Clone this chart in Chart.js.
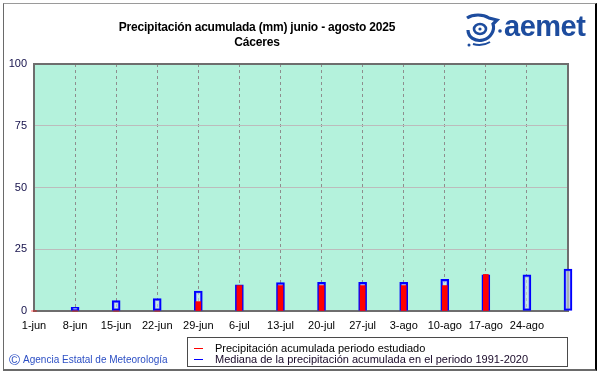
<!DOCTYPE html>
<html><head><meta charset="utf-8">
<script src="https://cdn.jsdelivr.net/npm/chart.js@4.4.1/dist/chart.umd.min.js"></script>
<style>
html,body{margin:0;padding:0;background:#fff;}
#wrap{position:relative;width:601px;height:374px;overflow:hidden;font-family:'Liberation Sans',Arial,sans-serif;background:#fff;}
#frame{position:absolute;left:3px;top:3px;width:591px;height:365px;border-top:1px solid #9a9a9a;border-left:1px solid #6a6a6a;border-right:2px solid #000;border-bottom:2px solid #6a6a6a;}
canvas{position:absolute;left:0;top:0;}
#title{position:absolute;left:107px;width:300px;top:20px;text-align:center;font-weight:bold;font-size:12px;line-height:15px;color:#000;letter-spacing:-0.2px;}
#logo{position:absolute;left:463px;top:12px;}
#logotext{position:absolute;left:504px;top:8px;font-weight:bold;font-size:29px;line-height:36px;color:#1d4c9e;letter-spacing:-0.5px;}
#legend{position:absolute;left:187px;top:337px;width:379px;height:28px;border:1px solid #4a4a4a;background:#fff;}
.lrow{position:absolute;left:0;height:11px;font-size:11px;line-height:11px;color:#000;white-space:nowrap;}
.lline{position:absolute;left:6px;width:9px;height:1px;}
.ltext{position:absolute;left:27px;top:0;}
#footer{position:absolute;left:9px;top:352px;font-size:10px;line-height:16px;color:#2c4fc4;white-space:nowrap;}
#footer .c{font-size:15px;vertical-align:-2px;margin-right:3px;}
</style></head>
<body>
<div id="wrap">
  <div id="frame"></div>
  <canvas id="c" width="601" height="374"></canvas>
  <div id="title">Precipitación acumulada (mm) junio - agosto 2025<br>Cáceres</div>
  <svg id="logo" viewBox="0 0 40 38" width="40" height="38">
    <path d="M4 6 C10 2 20 2 26 6 L34 8 L30 12 C32 18 28 26 20 28 C12 30 5 25 5 18" fill="none" stroke="#1d4c9e" stroke-width="3.2"/>
    <ellipse cx="17" cy="17" rx="6" ry="5" fill="none" stroke="#1d4c9e" stroke-width="2.6"/>
    <circle cx="17" cy="17" r="1.6" fill="#1d4c9e"/>
    <circle cx="37" cy="19" r="1.8" fill="#1d4c9e"/>
    <circle cx="6" cy="33" r="1.5" fill="#1d4c9e"/>
    <path d="M10 32 C16 34 22 33 27 30" fill="none" stroke="#1d4c9e" stroke-width="2"/>
  </svg>
  <div id="logotext">aemet</div>
  <div id="legend">
    <div class="lrow" style="top:5px;"><div class="lline" style="top:5px;background:#ff0000;"></div><span class="ltext">Precipitación acumulada periodo estudiado</span></div>
    <div class="lrow" style="top:16px;"><div class="lline" style="top:5px;background:#0000ff;"></div><span class="ltext" style="color:#180828;">Mediana de la precipitación acumulada en el periodo 1991-2020</span></div>
  </div>
  <div id="footer"><span class="c">©</span>Agencia Estatal de Meteorología</div>
</div>
<script>
// ---- data ----
const categories = ['1-jun','8-jun','15-jun','22-jun','29-jun','6-jul','13-jul','20-jul','27-jul','3-ago','10-ago','17-ago','24-ago','31-ago'];
const tickLabels = ['1-jun','8-jun','15-jun','22-jun','29-jun','6-jul','13-jul','20-jul','27-jul','3-ago','10-ago','17-ago','24-ago',''];
const precipEstudiado = [0, 0, 0, 0, 3.8, 10.3, 10.3, 10.3, 10.3, 10.3, 10.3, 14.8, null, null];
const medianaNormal   = [0, 1.5, 4.2, 5.0, 8.1, 10.6, 11.5, 11.6, 11.6, 11.6, 12.8, 14.6, 14.6, 17.0];
const yTicks = [0, 25, 50, 75, 100];

const plotBg = {
  id: 'plotBg',
  beforeDraw(chart) {
    const {ctx, chartArea: a} = chart;
    ctx.save();
    ctx.fillStyle = '#b4f2dc';
    ctx.fillRect(a.left, a.top, a.right - a.left, a.bottom - a.top);
    ctx.restore();
  },
  beforeDatasetsDraw(chart) {
    const {ctx, chartArea: a} = chart;
    ctx.save();
    ctx.strokeStyle = '#6e6e6e';
    ctx.lineWidth = 2;
    ctx.strokeRect(a.left, a.top, a.right - a.left, a.bottom - a.top);
    ctx.restore();
  }
};

new Chart(document.getElementById('c'), {
  type: 'bar',
  data: {
    labels: categories,
    datasets: [
      {
        label: 'Precipitación acumulada periodo estudiado',
        data: precipEstudiado,
        backgroundColor: '#ff0000',
        borderWidth: 0,
        barThickness: 5,
        grouped: false,
        order: 1,
        clip: false
      },
      {
        label: 'Mediana de la precipitación acumulada en el periodo 1991-2020',
        data: medianaNormal,
        backgroundColor: 'rgba(214,228,232,0.55)',
        borderColor: '#0000ff',
        borderWidth: 2,
        borderSkipped: false,
        barThickness: 8,
        grouped: false,
        order: 2,
        clip: false
      }
    ]
  },
  options: {
    responsive: false,
    animation: false,
    devicePixelRatio: 1,
    layout: { padding: { top: 64, right: 33, left: 0, bottom: 0 } },
    plugins: { legend: { display: false }, title: { display: false }, tooltip: { enabled: false } },
    scales: {
      x: {
        type: 'category',
        offset: false,
        grid: { offset: false, color: '#8e8e8e', lineWidth: 1, drawTicks: false },
        border: { display: false, dash: [3, 3] },
        ticks: {
          autoSkip: false, maxRotation: 0, minRotation: 0, padding: 8,
          color: '#000', font: { family: "'Liberation Sans', Arial, sans-serif", size: 11 },
          callback: (v, i) => tickLabels[i]
        },
        afterFit(s) { s.height = 63; }
      },
      y: {
        min: 0, max: 100,
        afterBuildTicks(s) { s.ticks = yTicks.map(v => ({ value: v })); },
        grid: {
          drawTicks: false, lineWidth: 1,
          color: (c) => (c.tick && (c.tick.value === 0 || c.tick.value === 100)) ? 'rgba(0,0,0,0)' : '#bcbcbc'
        },
        border: { display: false },
        ticks: { padding: 7, color: '#14104a', font: { family: "'Liberation Sans', Arial, sans-serif", size: 11 } },
        afterFit(s) { s.width = 34; }
      }
    }
  },
  plugins: [plotBg]
});
</script>
</body></html>
